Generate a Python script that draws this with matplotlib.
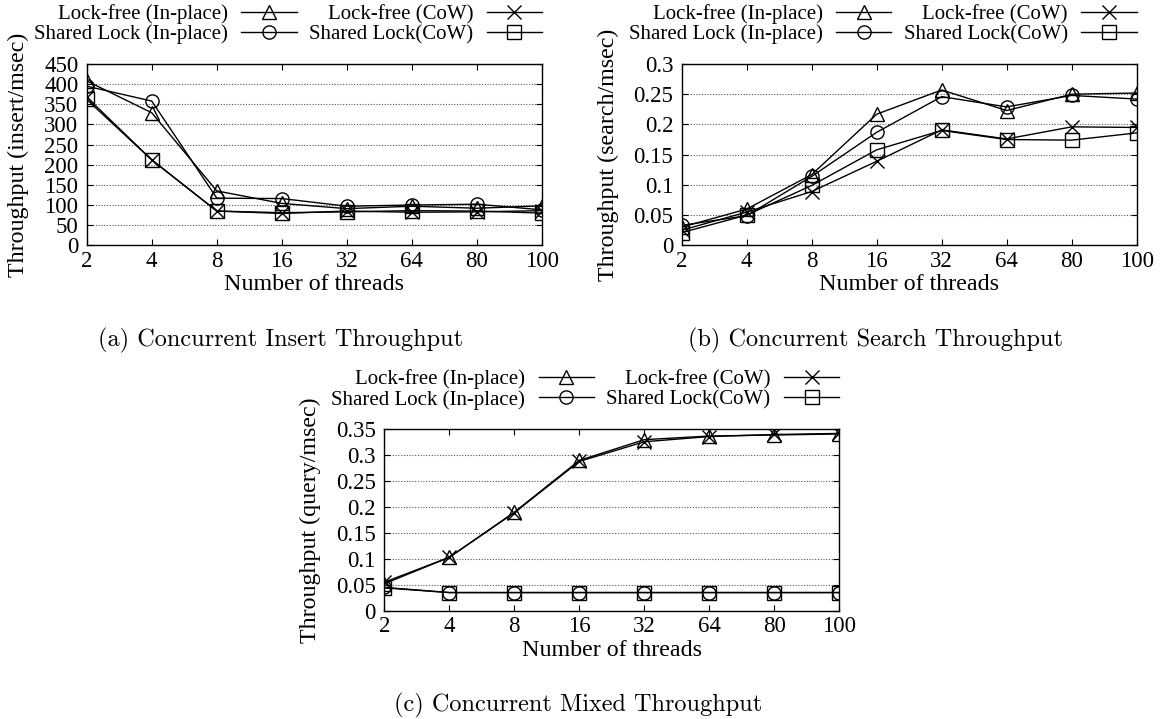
import matplotlib
matplotlib.use("Agg")
import matplotlib.pyplot as plt

# ---------------- data ----------------
threads = ['2', '4', '8', '16', '32', '64', '80', '100']

insert_lf_inplace = [408, 329, 135, 104, 91, 97, 92, 98]
insert_lf_cow     = [368, 212, 85, 79, 85, 82, 83, 86]
insert_sl_inplace = [395, 358, 117, 116, 97, 100, 102, 88]
insert_sl_cow     = [362, 212, 85, 81, 83, 86, 85, 80]

search_lf_inplace = [0.030, 0.060, 0.117, 0.217, 0.257, 0.223, 0.250, 0.252]
search_lf_cow     = [0.025, 0.055, 0.089, 0.139, 0.191, 0.176, 0.196, 0.195]
search_sl_inplace = [0.033, 0.049, 0.114, 0.187, 0.246, 0.229, 0.248, 0.242]
search_sl_cow     = [0.021, 0.050, 0.099, 0.158, 0.190, 0.175, 0.174, 0.186]

mixed_lf_inplace = [0.052, 0.103, 0.190, 0.290, 0.330, 0.337, 0.339, 0.341]
mixed_lf_cow     = [0.055, 0.103, 0.189, 0.288, 0.326, 0.336, 0.340, 0.342]
mixed_sl_inplace = [0.045, 0.035, 0.035, 0.035, 0.035, 0.035, 0.035, 0.035]
mixed_sl_cow     = [0.044, 0.035, 0.035, 0.035, 0.035, 0.035, 0.035, 0.035]

labels = ['Lock-free (In-place)', 'Shared Lock (In-place)',
          'Lock-free (CoW)', 'Shared Lock(CoW)']
markers = ['^', 'o', 'x', 's']

insert_ticks = [0, 50, 100, 150, 200, 250, 300, 350, 400, 450]
insert_ticklabels = ['0', '50', '100', '150', '200', '250', '300', '350', '400', '450']
search_ticks = [0, 0.05, 0.1, 0.15, 0.2, 0.25, 0.3]
search_ticklabels = ['0', '0.05', '0.1', '0.15', '0.2', '0.25', '0.3']
mixed_ticks = [0, 0.05, 0.1, 0.15, 0.2, 0.25, 0.3, 0.35]
mixed_ticklabels = ['0', '0.05', '0.1', '0.15', '0.2', '0.25', '0.3', '0.35']

captions = ['(a) Concurrent Insert Throughput',
            '(b) Concurrent Search Throughput',
            '(c) Concurrent Mixed Throughput']

# ---------------- style ----------------
plt.rcParams['font.family'] = ['Liberation Serif', 'DejaVu Serif']
W, H = 1162, 719
fig = plt.figure(figsize=(W / 100, H / 100), dpi=100)


def rect(l, t, r, b):
    return [l / W, 1 - b / H, (r - l) / W, (b - t) / H]


def panel(r, series, yticks, yticklabels, ylabel, ylabx):
    ax = fig.add_axes(r)
    x = list(range(len(threads)))
    handles = []
    for vals, m, lab in zip(series, markers, labels):
        h, = ax.plot(x, vals, color='black', lw=1.0, marker=m, ms=9.5,
                     mfc='none', mec='black', mew=1.0, label=lab)
        handles.append(h)
    ax.set_xlim(0, len(threads) - 1)
    ax.set_ylim(yticks[0], yticks[-1])
    ax.set_xticks(x)
    ax.set_xticklabels(threads)
    ax.set_yticks(yticks)
    ax.set_yticklabels(yticklabels)
    ax.tick_params(axis='both', direction='in', top=True, right=True,
                   length=4, width=0.8, labelsize=16.5)
    ax.tick_params(axis='x', pad=4)
    ax.tick_params(axis='y', pad=6)
    ax.yaxis.grid(True, linestyle=(0, (1, 1.5)), color='#555555', lw=0.8)
    ax.set_axisbelow(True)
    for s in ax.spines.values():
        s.set_linewidth(1.0)
    ax.set_xlabel('Number of threads', fontsize=17.3)
    ax.xaxis.set_label_coords(0.5, -0.16)
    ax.set_ylabel(ylabel, fontsize=17.3)
    ax.yaxis.set_label_coords(ylabx, 0.5)
    ax.legend(handles=handles, ncol=2, markerfirst=False, frameon=False,
              fontsize=15, handlelength=2.65, handletextpad=0.65,
              columnspacing=0.6, labelspacing=0.02, borderpad=0,
              borderaxespad=0, loc='center right',
              bbox_to_anchor=(1.0, 1 + (64 - 24.3) / 181.3))
    return ax


panel(rect(86.7, 64, 542, 245.3),
      [insert_lf_inplace, insert_sl_inplace, insert_lf_cow, insert_sl_cow],
      insert_ticks, insert_ticklabels, 'Throughput (insert/msec)', -0.127)
panel(rect(681.7, 64, 1136.7, 245.3),
      [search_lf_inplace, search_sl_inplace, search_lf_cow, search_sl_cow],
      search_ticks, search_ticklabels, 'Throughput (search/msec)', -0.138)
panel(rect(384.3, 429.3, 839.3, 610.7),
      [mixed_lf_inplace, mixed_sl_inplace, mixed_lf_cow, mixed_sl_cow],
      mixed_ticks, mixed_ticklabels, 'Throughput (query/msec)', -0.1396)

for cap, (cx, cy) in zip(captions, [(281, 340), (875.5, 340), (578.5, 705)]):
    fig.text(cx / W, 1 - cy / H, cap, ha='center', va='center',
             fontsize=17.5, family='cmr10')

fig.savefig('out.png', dpi=100)
